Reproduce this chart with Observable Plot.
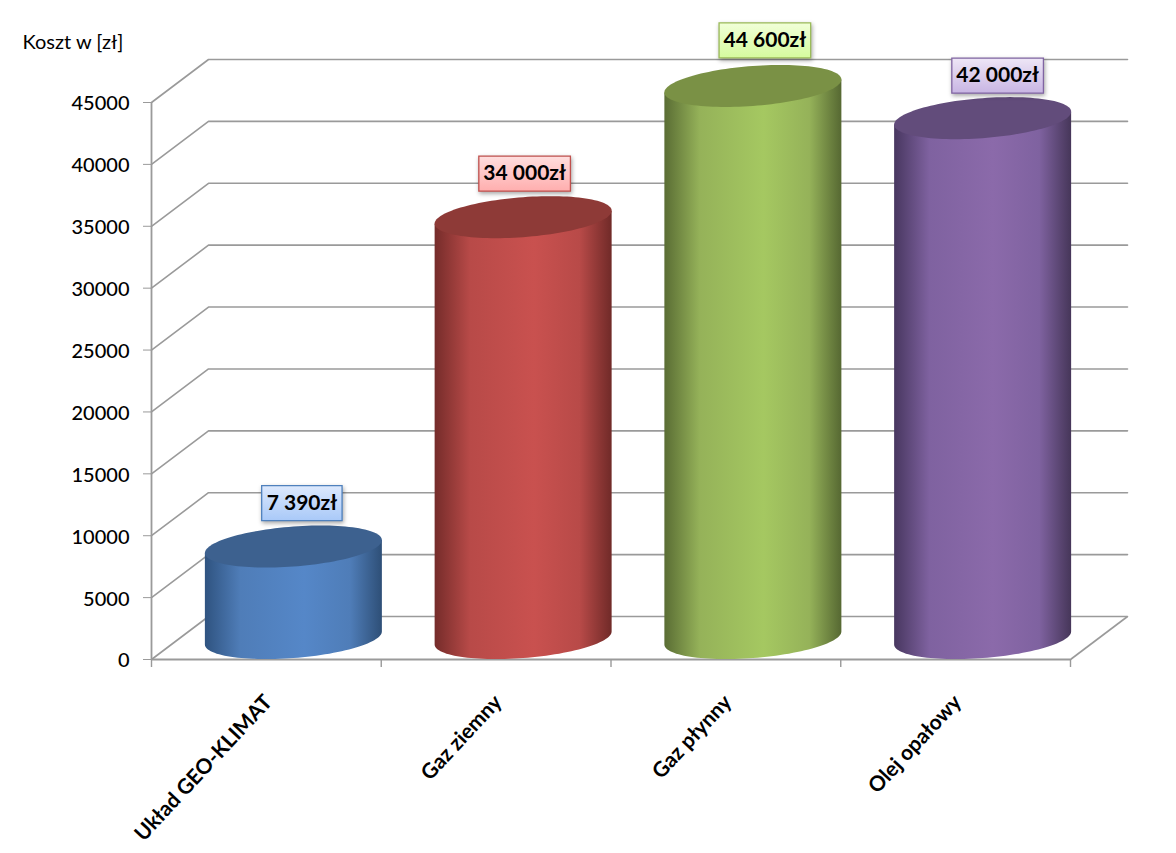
<!DOCTYPE html>
<html lang="pl">
<head>
<meta charset="utf-8">
<script src="https://cdn.jsdelivr.net/npm/d3@7"></script>
<script src="https://cdn.jsdelivr.net/npm/@observablehq/plot@0.6"></script>
<style>html,body{margin:0;padding:0;background:#fff}svg{display:block}</style>
</head>
<body>
<div id="chart"></div>
<script>
// ---- data ----
const categories = ["Układ GEO-KLIMAT", "Gaz ziemny", "Gaz płynny", "Olej opałowy"];
const costs = [7390, 34000, 44600, 42000];
const costLabels = ["7 390zł", "34 000zł", "44 600zł", "42 000zł"];
const yTicks = [0, 5000, 10000, 15000, 20000, 25000, 30000, 35000, 40000, 45000];
const yTitle = "Koszt w [zł]";

// ---- styling ----
const bodyStops = [
  ["#2f5380", "#4f7db8", "#5587c8", "#4f7db8", "#2e4f77"],
  ["#752c2a", "#b84a48", "#c9514f", "#b84a48", "#702a28"],
  ["#5a6d34", "#95b259", "#a5c861", "#95b259", "#566832"],
  ["#483760", "#7f62a0", "#8b6aaa", "#7f62a0", "#463659"]
];
const capColors = ["#3d618f", "#8e3a37", "#7a9145", "#624c7b"];
const boxStroke = ["#4f81bd", "#c0504d", "#9bbb59", "#8064a2"];
const boxStops = [["#dde9fd", "#a9c9f8"], ["#ffdede", "#ffaeae"], ["#f1ffd8", "#d5fb9e"], ["#eee6f6", "#c8b5e3"]];
const labelShift = [8.5, 1.5, 12, 15];
const labelLift = [-65, -65, -67, -64];
const gridColor = "#9a9a9a";

// projection of the 3-D box, expressed in data units
const pxX = 4 / 919, pxY = 45000 / 557;
const depthX = 57 * pxX, depthY = 43 * pxY;
const inset = 54, radius = 88.5, tilt = 6.5, flat = 20, lift = 21;

const angles = d3.range(0, 61).map(k => Math.PI - k * Math.PI / 60);
const arc = (i, top) => angles.map(t => {
  const s = Math.cos(t), h = Math.sin(t) * flat;
  const mid = (lift + tilt * s) * pxY;
  const cx = i + 0.5 + (inset / 2 + 0.5) * pxX;
  return {x: cx + radius * s * pxX, mid, h: h * pxY, v: top};
});
const bodyRows = i => arc(i, costs[i]).map(d => ({x: d.x, lo: d.mid - d.h, hi: costs[i] + d.mid}));
const capRows = i => arc(i, costs[i]).map(d => ({x: d.x, lo: costs[i] + d.mid - d.h, hi: costs[i] + d.mid + d.h}));

const wall = yTicks.flatMap(v => [
  {v, x: 0, y: v},
  {v, x: depthX, y: v + depthY},
  {v, x: 4 + depthX, y: v + depthY}
]);

const boxSymbol = (w, h) => ({draw(ctx) {
  ctx.moveTo(-w / 2, -h / 2); ctx.lineTo(w / 2, -h / 2); ctx.lineTo(w / 2, h / 2); ctx.lineTo(-w / 2, h / 2); ctx.closePath();
}});

const defs = () => {
  const d = d3.create("svg:defs");
  bodyStops.forEach((stops, i) => {
    const g = d.append("linearGradient").attr("id", "body" + i).attr("x1", 0).attr("x2", 1).attr("y1", 0).attr("y2", 0);
    [0, 0.2, 0.56, 0.82, 1].forEach((o, k) => g.append("stop").attr("offset", o).attr("stop-color", stops[k]));
  });
  boxStops.forEach((stops, i) => {
    const g = d.append("linearGradient").attr("id", "box" + i).attr("x1", 0).attr("x2", 0).attr("y1", 0).attr("y2", 1);
    stops.forEach((c, k) => g.append("stop").attr("offset", k).attr("stop-color", c));
  });
  return d.node();
};

const plot = Plot.plot({
  width: 1176, height: 853,
  marginLeft: 151, marginRight: 106, marginTop: 102, marginBottom: 194,
  style: {fontFamily: "Lato, Carlito, sans-serif", fontSize: "20px", color: "#000", background: "#fff"},
  x: {domain: [0, 4], axis: null},
  y: {domain: [0, 45000], axis: null},
  marks: [
    defs,
    // back and side walls
    Plot.line(wall, {x: "x", y: "y", z: "v", stroke: gridColor, strokeWidth: 1.6}),
    Plot.link([0], {x1: 4, y1: 0, x2: 4 + depthX, y2: depthY, stroke: gridColor, strokeWidth: 1.6}),
    // front axis lines and ticks
    Plot.ruleX([0], {y1: 0, y2: 45000, stroke: gridColor, strokeWidth: 1.8}),
    Plot.ruleY([0], {x1: 0, x2: 4, stroke: gridColor, strokeWidth: 1.8}),
    Plot.ruleX([0, 1, 2, 3, 4], {y1: 0, y2: -8 * pxY, stroke: gridColor, strokeWidth: 1.4}),
    Plot.axisY({ticks: yTicks, tickSize: 8, fill: "none", stroke: gridColor, label: null}),
    Plot.axisY({ticks: yTicks, tickSize: 0, tickPadding: 22, dy: 1.5, tickFormat: d => String(d), fill: "#000", fontWeight: 500, label: null}),
    Plot.axisX({
      ticks: categories.map((_, i) => i + 0.5), tickSize: 0, tickPadding: 39, tickRotate: -47, label: null,
      tickFormat: d => categories[Math.floor(d)], fontWeight: "bold", fontSize: 21, dx: 2, fill: "#000"
    }),
    Plot.text([yTitle], {frameAnchor: "top-left", textAnchor: "start", dx: -129, dy: -68, fontSize: 20, fill: "#000"}),
    // cylinders
    ...categories.flatMap((_, i) => [
      Plot.areaY(bodyRows(i), {x: "x", y1: "lo", y2: "hi", fill: `url(#body${i})`}),
      Plot.areaY(capRows(i), {x: "x", y1: "lo", y2: "hi", fill: capColors[i]})
    ]),
    // value callouts
    ...categories.flatMap((_, i) => {
      const row = [{x: i + 0.5, y: costs[i], t: costLabels[i]}];
      const dx = inset / 2 + labelShift[i], dy = labelLift[i];
      return [
        Plot.dot(row, {x: "x", y: "y", dx, dy, symbol: boxSymbol(costLabels[i].length * 11.2 + 2, 35),
          fill: `url(#box${i})`, stroke: boxStroke[i], strokeWidth: 1.3,
          imageFilter: "drop-shadow(1px 2px 2px rgba(0,0,0,.35))"}),
        Plot.text(row, {x: "x", y: "y", dx, dy, text: "t", fontWeight: "bold", fontSize: 21, fill: "#000"})
      ];
    })
  ]
});
document.getElementById("chart").append(plot);
</script>
</body>
</html>
